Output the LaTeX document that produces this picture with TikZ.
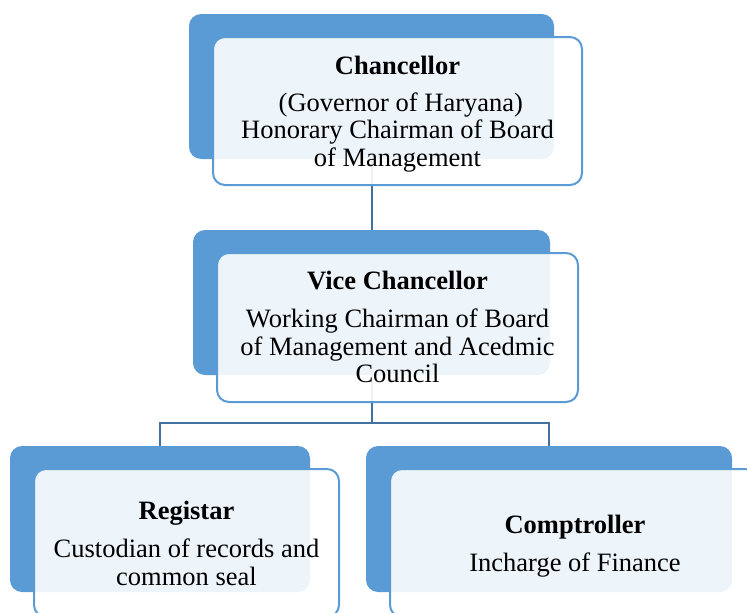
\documentclass[tikz,border=0pt]{standalone}
\usepackage{fontspec}
\setmainfont{Liberation Serif}
\definecolor{accent}{HTML}{5B9BD5}
\definecolor{linkcol}{HTML}{41719C}
\begin{document}
\begin{tikzpicture}[x=1pt,y=-1pt,
  darkbox/.style={draw=none,fill=accent,rounded corners=12pt,inner sep=0pt},
  lightbox/.style={draw=accent,line width=2pt,fill=white,fill opacity=0.9,rounded corners=12pt,inner sep=0pt},
  label/.style={align=center,inner sep=0pt,font=\fontsize{26.5}{27.5}\selectfont,text opacity=1},
  link/.style={draw=linkcol,line width=2pt}]
\useasboundingbox (0,0) rectangle (747,613);
\clip (0,0) rectangle (747,613);
% back boxes
\node[darkbox,minimum width=365pt,minimum height=145pt] (cd) at (371.5,86.5) {};
\node[darkbox,minimum width=357pt,minimum height=145pt] (vd) at (371.5,302.5) {};
\node[darkbox,minimum width=300pt,minimum height=146pt] (rd) at (160,519) {};
\node[darkbox,minimum width=366pt,minimum height=146pt] (md) at (549,519) {};
% connectors
\coordinate (j) at (371.5,423);
\draw[link] (cd.south) -- (vd.north);
\draw[link] (vd.south) -- (j);
\draw[link] (rd.north) |- (j) -| (md.north);
% front boxes
\node[lightbox,minimum width=369pt,minimum height=148pt] (cl) at (397.5,111) {};
\node[lightbox,minimum width=361pt,minimum height=149pt] (vl) at (397.5,327.5) {};
\node[lightbox,minimum width=305pt,minimum height=148pt] (rl) at (186.5,543) {};
\node[lightbox,minimum width=367pt,minimum height=148pt] (ml) at (573.5,543) {};
% texts
\node[label] (ct) at (397.5,114) {\textbf{Chancellor}\\[9pt] \ (Governor of Haryana)\\Honorary Chairman of Board\\of Management};
\node[label] (vt) at (397.5,327) {\textbf{Vice Chancellor}\\[11pt]Working Chairman of Board\\of Management and Acedmic\\Council};
\node[label] (rt) at (186.5,543) {\textbf{Registar}\\[11pt]Custodian of records and\\common seal};
\node[label] (mt) at (575,546) {\textbf{Comptroller}\\[10pt]Incharge of Finance};
\end{tikzpicture}
\end{document}
